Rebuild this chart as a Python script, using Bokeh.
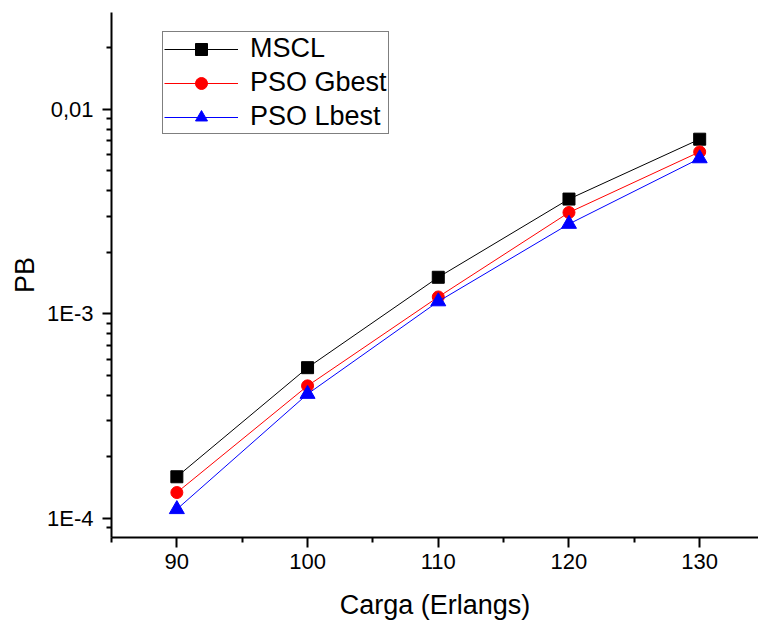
from bokeh.plotting import figure
from bokeh.models import (Range1d, FixedTicker, CustomJSTickFormatter, Legend, LegendItem)
from bokeh.embed import file_html
from bokeh.resources import INLINE

# ---- data ----
carga = [90, 100, 110, 120, 130]
mscl = [1.60e-4, 5.46e-4, 1.51e-3, 3.64e-3, 7.14e-3]
pso_gbest = [1.34e-4, 4.45e-4, 1.21e-3, 3.13e-3, 6.19e-3]
pso_lbest = [1.11e-4, 4.06e-4, 1.15e-3, 2.75e-3, 5.75e-3]

x_ticks = [90, 100, 110, 120, 130]
x_minor = [85, 95, 105, 115, 125, 135]
y_ticks = [1e-4, 1e-3, 1e-2]
y_tick_labels = ["1E-4", "1E-3", "0,01"]
y_minor = [m * d for d in (1e-5, 1e-4, 1e-3, 1e-2) for m in (2, 3, 4, 5, 6, 7, 8, 9)]

series_names = ["MSCL", "PSO Gbest", "PSO Lbest"]
series_colors = ["#000000", "#ff0000", "#0000ff"]
series_markers = ["square", "circle", "triangle"]
series_sizes = [12, 12, 15]

FONT = "Liberation Sans"

p = figure(width=758, height=622, y_axis_type="log",
           x_range=Range1d(85, 134.5), y_range=Range1d(8.08e-5, 0.0297),
           output_backend="svg", toolbar_location=None,
           min_border_left=111, min_border_top=12, min_border_right=0, min_border_bottom=84)
p.outline_line_color = None
p.xgrid.visible = False
p.ygrid.visible = False
p.background_fill_color = "white"
p.border_fill_color = "white"

items = []
for name, ys, col, mk, sz in zip(series_names, [mscl, pso_gbest, pso_lbest],
                                 series_colors, series_markers, series_sizes):
    r1 = p.line(carga, ys, line_color=col, line_width=1)
    r2 = p.scatter(carga, ys, marker=mk, size=sz, fill_color=col, line_color=col)
    items.append(LegendItem(label=name, renderers=[r1, r2]))

legend = Legend(items=items, location=(51, 403))
legend.label_text_font = FONT
legend.label_text_font_size = "27px"
legend.label_text_color = "black"
legend.glyph_width = 74
legend.glyph_height = 30
legend.label_height = 30
legend.spacing = 3
legend.padding = 1
legend.margin = 0
legend.label_standoff = 12
legend.border_line_color = "black"
legend.border_line_width = 1
legend.background_fill_color = "white"
legend.background_fill_alpha = 1
p.add_layout(legend, "center")

# x axis
xa = p.xaxis[0]
xa.ticker = FixedTicker(ticks=x_ticks, minor_ticks=x_minor)
xa.axis_label = "Carga (Erlangs)"
# y axis
ya = p.yaxis[0]
ya.ticker = FixedTicker(ticks=y_ticks, minor_ticks=y_minor)
ya.formatter = CustomJSTickFormatter(args=dict(vals=y_ticks, labs=y_tick_labels), code="""
let best = 0, bd = 1e9;
for (let i = 0; i < vals.length; i++) {
  const d = Math.abs(Math.log10(tick) - Math.log10(vals[i]));
  if (d < bd) { bd = d; best = i; }
}
return labs[best];
""")
ya.axis_label = "PB"

for ax in (xa, ya):
    ax.axis_line_width = 2
    ax.axis_line_color = "black"
    ax.major_tick_line_width = 2
    ax.minor_tick_line_width = 2
    ax.major_tick_line_color = "black"
    ax.minor_tick_line_color = "black"
    ax.major_tick_in = 0
    ax.minor_tick_in = 0
    ax.minor_tick_out = 5
    ax.major_label_text_font = FONT
    ax.major_label_text_font_size = "22px"
    ax.major_label_text_color = "black"
    ax.axis_label_text_font = FONT
    ax.axis_label_text_font_size = "27px"
    ax.axis_label_text_font_style = "normal"
    ax.axis_label_text_color = "black"

xa.major_tick_out = 10
xa.major_label_standoff = 6
xa.axis_label_standoff = 18
ya.major_tick_out = 9
ya.major_label_standoff = 9
ya.axis_label_standoff = 4

open("out.html", "w").write(file_html(p, INLINE))
